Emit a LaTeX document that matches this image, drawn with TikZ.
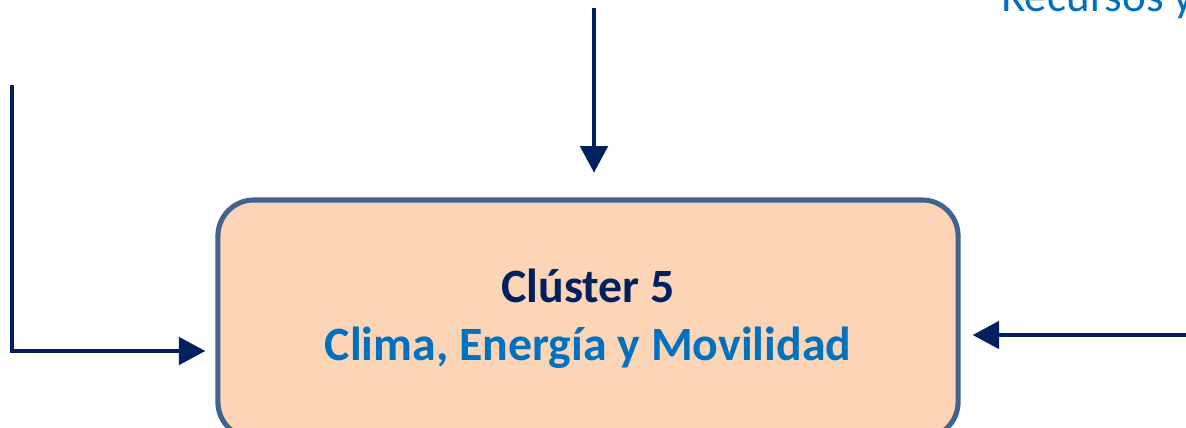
\documentclass[tikz,border=0pt]{standalone}
\usepackage{fontspec}
\setmainfont{Carlito}
\usetikzlibrary{arrows.meta}
\definecolor{navy}{HTML}{002060}
\definecolor{lightblue}{HTML}{0070C0}
\definecolor{peach}{HTML}{FBD5B5}
\definecolor{frame}{HTML}{41638F}
\begin{document}
\begin{tikzpicture}[
    x=0.025cm,
    y=-0.025cm,
    cluster/.style={
        rectangle,
        rounded corners=0.9cm,
        minimum width=18.5cm,
        minimum height=5.95cm,
        draw=frame,
        line width=3.6pt,
        fill=peach,
        align=center,
        font=\fontsize{34}{41}\selectfont\bfseries
    },
    label/.style={
        font=\fontsize{32}{38}\selectfont,
        text=lightblue,
        inner sep=0pt
    },
    arrow/.style={
        -{Triangle[length=0.66cm,width=0.68cm]},
        line width=2.9pt,
        draw=navy
    }
]
\useasboundingbox (0,0) rectangle (1186,428);
\clip (0,0) rectangle (1186,428);

% Central cluster
\node[cluster] (cluster) at (588,319)
    {\textcolor{navy}{Clúster 5}\\\textcolor{lightblue}{Clima, Energía y Movilidad}};

% Text cut at the top
\node[label, anchor=base west] (recursos) at (1001,11) {Recursos y};

% Ends of the arrows
\coordinate (topstart) at (594,8);
\coordinate (leftstart) at (12,85);
\coordinate (rightstart) at (1190,335);

% Arrows
\draw[arrow, shorten >=0.62cm] (topstart) -- (topstart |- cluster.north);
\draw[arrow, shorten >=0.25cm] (leftstart) |- ([yshift=-0.8cm]cluster.west);
\draw[arrow, shorten >=0.3cm] (rightstart) -- (rightstart -| cluster.east);

\end{tikzpicture}
\end{document}
